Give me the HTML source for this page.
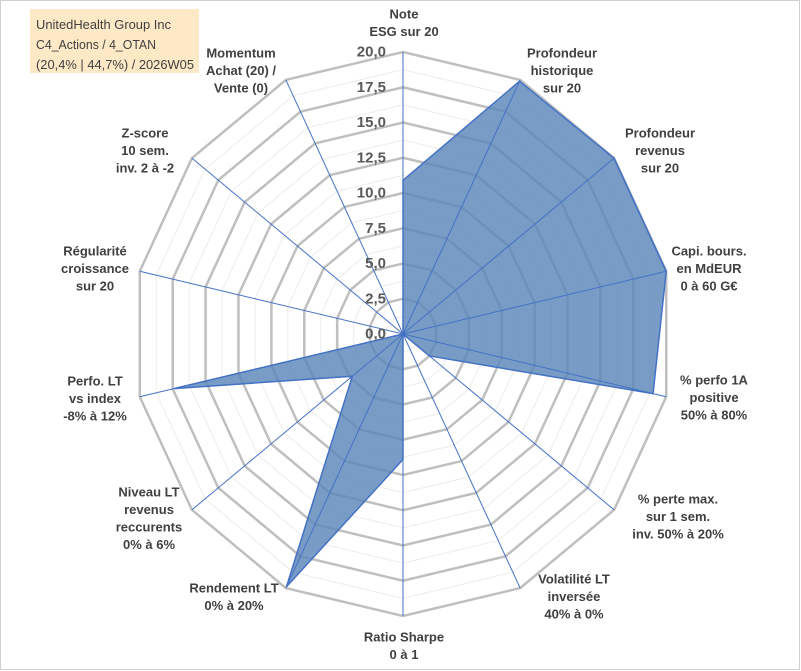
<!DOCTYPE html>
<html><head><meta charset="utf-8"><style>
body{margin:0;background:#fff}
svg{display:block;font-family:"Liberation Sans",Arial,sans-serif}
</style></head><body>
<svg id="chart" width="801" height="671" viewBox="0 0 801 671">
<rect x="0.5" y="0.5" width="799" height="669" fill="#fff" stroke="#d0d0d0"/>
<g id="grid"></g><g id="series"></g><g id="spokes"></g><g id="ticks"></g><g id="labels"></g>
<rect x="30" y="9" width="169" height="64" fill="#fde9c6"/>
<text x="36" y="29" font-size="13" fill="#404040" textLength="135" lengthAdjust="spacingAndGlyphs">UnitedHealth Group Inc</text>
<text x="36" y="49" font-size="13" fill="#404040" textLength="120" lengthAdjust="spacingAndGlyphs">C4_Actions / 4_OTAN</text>
<text x="36" y="69" font-size="13" fill="#404040" textLength="158" lengthAdjust="spacingAndGlyphs">(20,4% | 44,7%) / 2026W05</text>
</svg>
<script>
const categories=[["Note","ESG sur 20"],["Profondeur","historique","sur 20"],["Profondeur","revenus","sur 20"],["Capi. bours.","en MdEUR","0 à 60 G€"],["% perfo 1A","positive","50% à 80%"],["% perte max.","sur 1 sem.","inv. 50% à 20%"],["Volatilité LT","inversée","40% à 0%"],["Ratio Sharpe","0 à 1"],["Rendement LT","0% à 20%"],["Niveau LT","revenus","reccurents","0% à 6%"],["Perfo. LT","vs index","-8% à 12%"],["Régularité","croissance","sur 20"],["Z-score","10 sem.","inv. 2 à -2"],["Momentum","Achat (20) /","Vente (0)"]];
const values=[10.9,19.9,20,20,19,2.5,0,8.9,19.9,4.8,17.4,0,0,0];
const tickLabels=["0,0","2,5","5,0","7,5","10,0","12,5","15,0","17,5","20,0"];
const labelPos=[[404,14],[562,53],[660,133],[709,251],[714,380],[678,499],[574,579],[404,637],[234,588],[149,492],[95,381],[95,251],[145,133],[241,53]];
const cx=403,cy=334,RX=270,RY=282,MAX=20,N=categories.length;
const NS="http://www.w3.org/2000/svg";
function pt(i,v){const a=2*Math.PI*i/N;return [cx+Math.sin(a)*RX*v/MAX,cy-Math.cos(a)*RY*v/MAX];}
function mk(t,at,p){const e=document.createElementNS(NS,t);for(const k in at)e.setAttribute(k,at[k]);p.appendChild(e);return e;}
const grid=document.getElementById('grid');
for(let k=1;k<=16;k++){const v=k*1.25;const pts=[];for(let i=0;i<N;i++)pts.push(pt(i,v).join(','));
const major=k%2===0;
const g=mk('polygon',{points:pts.join(' '),fill:'none',stroke:major?'#bfbfbf':'#ececec','stroke-width':major?2.5:1},grid);

}
const ser=document.getElementById('series');
const sp=values.map((v,i)=>pt(i,v).join(',')).join(' ');
const poly=mk('polygon',{points:sp,fill:'#5a86ba','fill-opacity':'0.82',stroke:'#4472c4','stroke-width':1.5},ser);


const spokes=document.getElementById('spokes');
for(let i=0;i<N;i++){const p=pt(i,MAX);const l=mk('line',{x1:cx,y1:cy,x2:p[0],y2:p[1],stroke:'#4472c4','stroke-width':1},spokes);

}
const ticks=document.getElementById('ticks');
tickLabels.forEach((t,k)=>{const v=k*2.5;const y=cy-RY*v/MAX;const e=mk('text',{x:386,y:y,'text-anchor':'end','dominant-baseline':'central','font-size':15,'font-weight':'bold',fill:'#595959'},ticks);e.textContent=t;

});
const labs=document.getElementById('labels');
categories.forEach((lines,i)=>{const [x,y]=labelPos[i];const t=mk('text',{x:x,'text-anchor':'middle','font-size':13,'font-weight':'bold',fill:'#404040'},labs);


lines.forEach((s,j)=>{const ts=mk('tspan',{x:x,y:y+j*17.5,'dominant-baseline':'central'},t);ts.textContent=s;});});
</script>
</body></html>
